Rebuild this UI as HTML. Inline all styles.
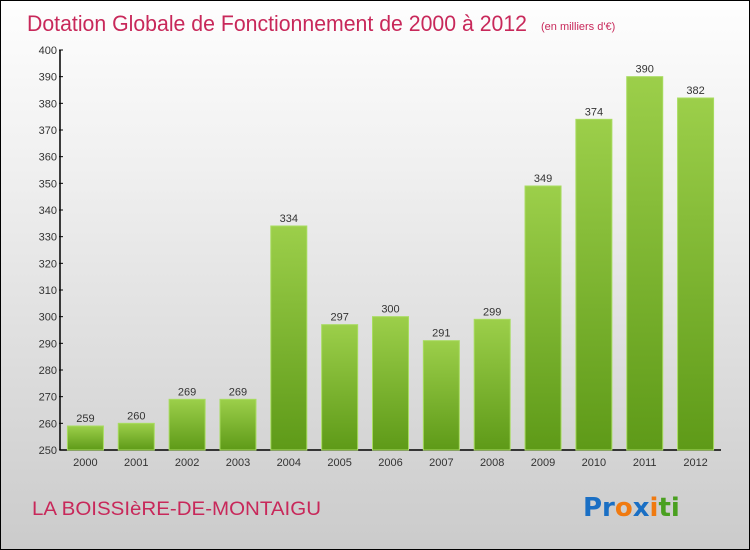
<!DOCTYPE html>
<html><head><meta charset="utf-8"><style>
html,body{margin:0;padding:0;}
body{width:750px;height:550px;overflow:hidden;font-family:"Liberation Sans",sans-serif;}
#wrap{position:relative;width:748px;height:548px;border:1px solid #000;background:linear-gradient(#fefefe,#f0f0f0 30%,#cbcbcb);}
</style></head><body>
<div id="wrap">
<svg id="chart" width="748" height="548" style="position:absolute;left:0;top:0">
<defs><linearGradient id="g" x1="0" y1="0" x2="0" y2="1"><stop offset="0" stop-color="#9ccf4a"/><stop offset="1" stop-color="#5e9a18"/></linearGradient></defs>
<text x="26" y="30" font-size="22" fill="#c8285a" font-family="Liberation Sans, sans-serif" textLength="500" lengthAdjust="spacingAndGlyphs">Dotation Globale de Fonctionnement de 2000 à 2012</text>
<text x="540" y="29" font-size="11" fill="#c8285a">(en milliers d'€)</text>
<g id="axes"></g><g id="bars"></g>
<text x="31" y="514" font-size="19" fill="#c8285a" textLength="289" lengthAdjust="spacingAndGlyphs">LA BOISSIèRE-DE-MONTAIGU</text>
<text x="582" y="515" font-size="26" font-weight="bold" font-family="DejaVu Sans, sans-serif"><tspan fill="#1a6fc4">Pr</tspan><tspan fill="#f07a10">o</tspan><tspan fill="#1a6fc4">x</tspan><tspan fill="#f07a10">i</tspan><tspan fill="#4aa020">ti</tspan></text>
</svg>
</div>
<script>
const categories=["2000","2001","2002","2003","2004","2005","2006","2007","2008","2009","2010","2011","2012"];
const values=[259,260,269,269,334,297,300,291,299,349,374,390,382];
const ticks=[250,260,270,280,290,300,310,320,330,340,350,360,370,380,390,400];
const NS="http://www.w3.org/2000/svg";
const yMin=250,yMax=400,plotTop=49,plotBot=449,x0=59,x1=720;
const yS=v=>plotBot-(v-yMin)/(yMax-yMin)*(plotBot-plotTop);
const step=(x1-x0)/categories.length;
const xc=i=>x0+step*(i+0.5);
function el(t,a,p){const e=document.createElementNS(NS,t);for(const k in a)e.setAttribute(k,a[k]);p.appendChild(e);return e;}
const ax=document.getElementById('axes'),bg=document.getElementById('bars');
const yl=el('line',{x1:x0,y1:plotTop,x2:x0,y2:plotBot,stroke:'#000','stroke-width':1.5},ax);


const xl=el('line',{x1:x0,y1:plotBot,x2:x1,y2:plotBot,stroke:'#000','stroke-width':1.5},ax);


ticks.forEach(t=>{
 el('line',{x1:x0-1,y1:yS(t),x2:x0+3,y2:yS(t),stroke:'#000'},ax);
 const tx=el('text',{x:x0-3,y:yS(t)+4,'font-size':11,fill:'#333','text-anchor':'end'},ax);tx.textContent=t;
 
 
});
categories.forEach((c,i)=>{
 const bw=36,v=values[i];
 const r=el('rect',{x:xc(i)-bw/2,y:yS(v),width:bw,height:plotBot-yS(v),fill:'url(#g)',stroke:'#a8dc60','stroke-width':1},bg);
 
 
 const vl=el('text',{x:xc(i),y:yS(v)-4,'font-size':11,fill:'#333','text-anchor':'middle'},bg);vl.textContent=v;
 
 
 const cl=el('text',{x:xc(i),y:plotBot+16,'font-size':11,fill:'#333','text-anchor':'middle'},bg);cl.textContent=c;
 
 
});
</script>
</body></html>
